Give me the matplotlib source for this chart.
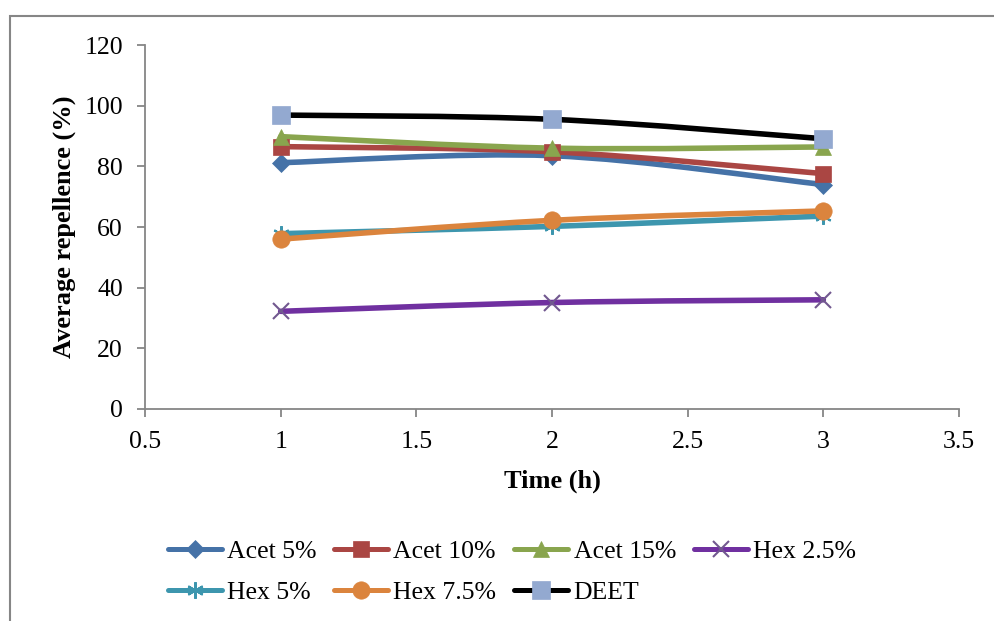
#!/usr/bin/env python3

import numpy as np
import matplotlib.pyplot as plt
from matplotlib.path import Path
from matplotlib.patches import PathPatch, Rectangle
from matplotlib.lines import Line2D

plt.rcParams['font.family'] = ['Liberation Serif', 'DejaVu Serif']

time_h = [1, 2, 3]
acet5 = [81.2, 83.5, 74.0]
acet10 = [86.5, 84.8, 77.6]
acet15 = [89.8, 86.0, 86.4]
hex25 = [32.2, 35.1, 36.0]
hex5 = [57.8, 60.2, 63.6]
hex75 = [56.0, 62.2, 65.3]
deet = [96.9, 95.5, 89.1]

series = [
    ('Acet 5%', acet5, '#4572A7', 'D', '#4572A7', 9.5),
    ('Acet 10%', acet10, '#AA4643', 's', '#AA4643', 11.5),
    ('Acet 15%', acet15, '#89A54E', '^', '#89A54E', 12),
    ('Hex 2.5%', hex25, '#7030A0', 'x', '#71588F', 11),
    ('Hex 5%', hex5, '#3D96AE', (6, 2, 0), '#3D96AE', 12),
    ('Hex 7.5%', hex75, '#DB843D', 'o', '#DB843D', 12.5),
    ('DEET', deet, '#000000', 's', '#93A9D0', 12.5),
]


def smooth_path(x, y):
    # excel-like smoothed line: cubic bezier through the points
    pts = np.column_stack([x, y]).astype(float)
    n = len(pts)
    verts = [pts[0]]
    codes = [Path.MOVETO]
    for i in range(n - 1):
        p0 = pts[max(i - 1, 0)]
        p1 = pts[i]
        p2 = pts[i + 1]
        p3 = pts[min(i + 2, n - 1)]
        c1 = p1 + (p2 - p0) / 6.0
        c2 = p2 - (p3 - p1) / 6.0
        verts += [c1, c2, p2]
        codes += [Path.CURVE4] * 3
    return Path(verts, codes)


def main():
    fig = plt.figure(figsize=(9.94, 6.21), dpi=100)
    ax = fig.add_axes([0.1459, 0.3414, 0.8189, 0.5861])

    # outer chart frame (cut off at right and bottom)
    fig.patches.append(Rectangle((10 / 994, -0.1), 1.2, 1 - 16 / 621 + 0.1,
                                 transform=fig.transFigure, fill=False,
                                 edgecolor='#868686', linewidth=1.5))

    handles = []
    for label, vals, lc, mk, mc, ms in series:
        patch = PathPatch(smooth_path(time_h, vals), facecolor='none',
                          edgecolor=lc, linewidth=4.0, capstyle='round',
                          joinstyle='round', zorder=2)
        ax.add_patch(patch)
        mew = 1.5 if mk in ('x', (6, 2, 0)) else 0.5
        ax.plot(time_h, vals, linestyle='none', marker=mk, markersize=ms,
                markerfacecolor=mc, markeredgecolor=mc, markeredgewidth=mew,
                zorder=3)
        handles.append(Line2D([], [], color=lc, linewidth=3.6,
                              solid_capstyle='round', marker=mk,
                              markersize=ms, markerfacecolor=mc,
                              markeredgecolor=mc, markeredgewidth=mew))

    ax.set_xlim(0.5, 3.5)
    ax.set_ylim(0, 120)
    ax.set_xticks([0.5, 1, 1.5, 2, 2.5, 3, 3.5])
    ax.set_xticklabels(['0.5', '1', '1.5', '2', '2.5', '3', '3.5'])
    ax.set_yticks(range(0, 121, 20))
    for s in ['top', 'right']:
        ax.spines[s].set_visible(False)
    for s in ['left', 'bottom']:
        ax.spines[s].set_color('#868686')
        ax.spines[s].set_linewidth(1.3)
    ax.tick_params(axis='both', colors='#868686', width=1.3, length=6,
                   labelsize=18.5, labelcolor='black')
    ax.tick_params(axis='x', pad=10)
    ax.tick_params(axis='y', pad=10)
    ax.set_xlabel('Time (h)', fontsize=19, fontweight='bold', labelpad=12)
    ax.set_ylabel('Average repellence (%)', fontsize=19, fontweight='bold',
                  labelpad=6)

    # legend fills column-wise, so order items to read row by row
    order = [0, 4, 1, 5, 2, 6, 3]
    labels = [series[i][0] for i in order]
    fig.legend([handles[i] for i in order], labels, loc='center',
               bbox_to_anchor=(0.515, 0.079), ncol=4, frameon=False,
               fontsize=18.5, handlelength=2.1, handletextpad=0.2,
               columnspacing=0.7, labelspacing=0.7)

    plt.savefig('out.png', dpi=100)


if __name__ == '__main__':
    main()
